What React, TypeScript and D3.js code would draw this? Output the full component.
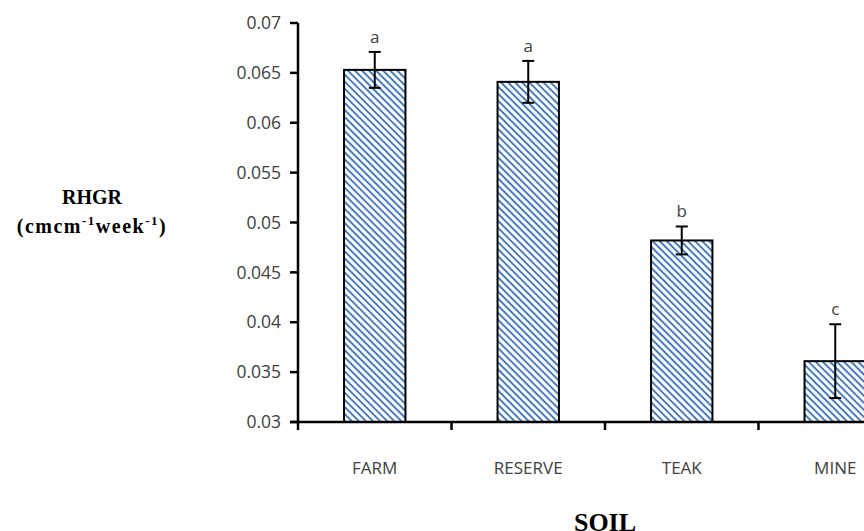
import React from 'react';
import { scaleBand, scaleLinear } from 'd3';

const soils = ['FARM', 'RESERVE', 'TEAK', 'MINE'];
const rhgr = [0.0653, 0.0641, 0.0482, 0.0361];
const errors = [0.0018, 0.0021, 0.0014, 0.0037];
const letters = ['a', 'a', 'b', 'c'];
const yTicks = [0.03, 0.035, 0.04, 0.045, 0.05, 0.055, 0.06, 0.065, 0.07];

const width = 864;
const height = 531;
const axisX = 298;
const axisY = 422;
const bandStep = 153.5;

const App = () => {
  const xScale = scaleBand()
    .domain(soils)
    .range([axisX, axisX + bandStep * soils.length])
    .paddingInner(0.6)
    .paddingOuter(0.3);

  const yScale = scaleLinear().domain([0.03, 0.07]).range([axisY, 23]);

  const bw = xScale.bandwidth();
  const catTicks = soils.slice(1).map((_, i) => axisX + bandStep * (i + 1));
  const tickFont = '"Open Sans", sans-serif';
  const serif = '"Liberation Serif", serif';

  return (
    <svg
      width={width}
      height={height}
      style={{ position: 'absolute', left: 0, top: 0, background: '#fff' }}
    >
      <defs>
        <pattern
          id="hatch"
          patternUnits="userSpaceOnUse"
          width={5}
          height={5}
          patternTransform="rotate(-45)"
        >
          <rect width={5} height={5} fill="#fff" />
          <line x1={1} y1={0} x2={1} y2={5} stroke="#4a7ebb" strokeWidth={2} />
        </pattern>
      </defs>

      {soils.map((s, i) => {
        const x = xScale(s)!;
        const cx = x + bw / 2;
        const top = yScale(rhgr[i]);
        const eTop = yScale(rhgr[i] + errors[i]);
        const eBot = yScale(rhgr[i] - errors[i]);
        return (
          <g key={s}>
            <rect
              x={x}
              y={top}
              width={bw}
              height={axisY - top}
              fill="url(#hatch)"
              stroke="#000"
              strokeWidth={2}
            />
            <line x1={cx} x2={cx} y1={eTop} y2={eBot} stroke="#000" strokeWidth={2} />
            <line x1={cx - 6} x2={cx + 6} y1={eTop} y2={eTop} stroke="#000" strokeWidth={2} />
            <line x1={cx - 6} x2={cx + 6} y1={eBot} y2={eBot} stroke="#000" strokeWidth={2} />
            <text
              x={cx}
              y={eTop - 9}
              textAnchor="middle"
              fontFamily={tickFont}
              fontSize={17}
              fill="#404040"
            >
              {letters[i]}
            </text>
            <text
              x={cx}
              y={axisY + 52}
              textAnchor="middle"
              fontFamily={tickFont}
              fontSize={17}
              fill="#404040"
            >
              {s}
            </text>
          </g>
        );
      })}

      {/* y axis */}
      <line x1={axisX} x2={axisX} y1={yScale(0.07)} y2={axisY + 1} stroke="#000" strokeWidth={2.5} />
      {yTicks.map(t => (
        <g key={t}>
          <line x1={axisX - 8} x2={axisX} y1={yScale(t)} y2={yScale(t)} stroke="#000" strokeWidth={2.5} />
          <text
            x={axisX - 17}
            y={yScale(t)}
            dy="0.35em"
            textAnchor="end"
            fontFamily={tickFont}
            fontSize={17.5}
            fill="#404040"
          >
            {String(t)}
          </text>
        </g>
      ))}

      {/* x axis */}
      <line x1={axisX - 8} x2={width} y1={axisY} y2={axisY} stroke="#000" strokeWidth={2.5} />
      {[axisX, ...catTicks].map(t => (
        <line key={t} x1={t} x2={t} y1={axisY} y2={axisY + 8} stroke="#000" strokeWidth={2.5} />
      ))}

      {/* axis titles */}
      <text x={92} y={204} textAnchor="middle" fontFamily={serif} fontWeight="bold" fontSize={20}>
        RHGR
      </text>
      <text
        x={92}
        y={233}
        textAnchor="middle"
        fontFamily={serif}
        fontWeight="bold"
        fontSize={20}
        letterSpacing={1.5}
      >
        (cmcm<tspan fontSize={13} dy={-8}>-1</tspan>
        <tspan dy={8}>week</tspan>
        <tspan fontSize={13} dy={-8}>-1</tspan>
        <tspan dy={8}>)</tspan>
      </text>
      <text
        x={axisX + (bandStep * soils.length) / 2}
        y={531}
        textAnchor="middle"
        fontFamily={serif}
        fontWeight="bold"
        fontSize={26}
      >
        SOIL
      </text>
    </svg>
  );
};

export default App;
